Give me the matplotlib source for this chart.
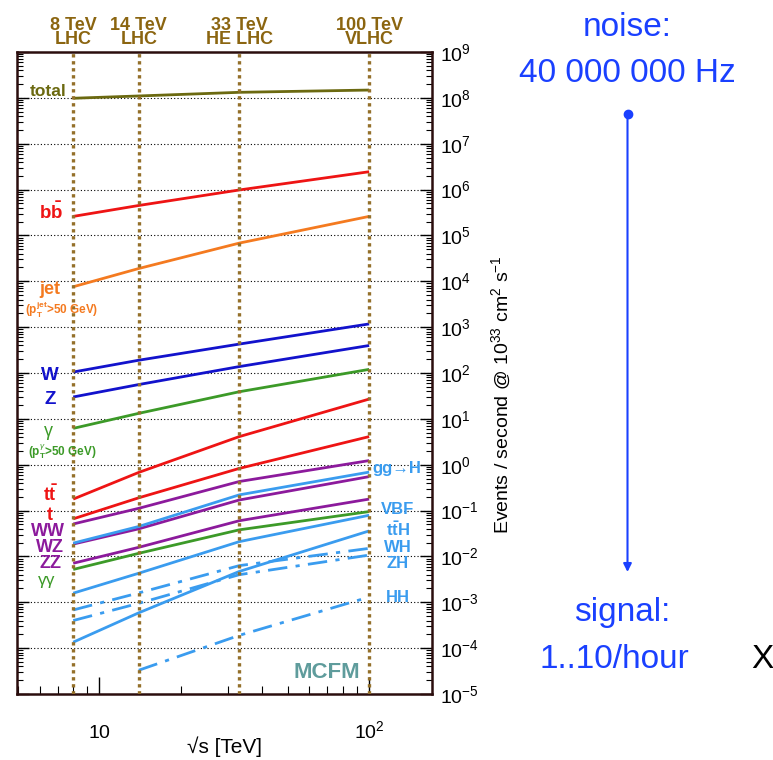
import numpy as np
import matplotlib.pyplot as plt
from matplotlib.ticker import LogLocator, NullFormatter

plt.rcParams['font.family'] = ['Liberation Sans', 'DejaVu Sans']
plt.rcParams['mathtext.fontset'] = 'custom'
plt.rcParams['mathtext.rm'] = 'Liberation Sans'
plt.rcParams['mathtext.it'] = 'Liberation Sans:italic'
plt.rcParams['mathtext.bf'] = 'Liberation Sans:bold'

# collider energies (TeV) and their names
sqrt_s = [8, 14, 33, 100]
collider_energy = ['8 TeV', '14 TeV', '33 TeV', '100 TeV']
collider_name = ['LHC', 'LHC', 'HE LHC', 'VLHC']

# events / second @ 1e33 cm^-2 s^-1, read at 8, 14, 33, 100 TeV
total = [9.8e7, 1.1e8, 1.32e8, 1.48e8]
bb = [2.6e5, 4.5e5, 9.8e5, 2.45e6]
jet = [7.6e3, 1.9e4, 6.8e4, 2.6e5]
w = [105, 190, 427, 1175]
z = [30, 56, 138, 398]
gamma = [6.2, 13.2, 39, 120]
tt = [0.178, 0.68, 4.1, 27]
t = [0.066, 0.19, 0.83, 4.1]
ww = [0.051, 0.112, 0.43, 1.23]
ggh = [0.0195, 0.045, 0.22, 0.69]
wz = [0.0186, 0.040, 0.17, 0.55]
zz = [0.0071, 0.0158, 0.060, 0.178]
diphoton = [0.0052, 0.0117, 0.038, 0.095]
vbf = [0.00158, 0.0043, 0.021, 0.079]
tth = [1.35e-4, 5.9e-4, 4.7e-3, 0.036]
wh = [6.8e-4, 1.6e-3, 6.3e-3, 0.015]
zh = [4.0e-4, 9.5e-4, 4.0e-3, 0.0107]
hh_sqrt_s = [14, 33, 100]
hh = [3.3e-5, 1.9e-4, 1.3e-3]

OLIVE = '#6b6910'
RED = '#ee1414'
ORANGE = '#f47a20'
BLUE = '#1212cc'
GREEN = '#3c9a28'
PURPLE = '#8c1a9c'
LBLUE = '#3a9cef'
BROWN = '#8b6510'
NOTE = '#1a40ff'

fig = plt.figure(figsize=(7.73, 7.60), dpi=100)
W, H = 773, 760
ax = fig.add_axes([17 / W, 66 / H, 415 / W, 642 / H])
ax.set_xscale('log')
ax.set_yscale('log')
ax.set_xlim(4.95, 171)
ax.set_ylim(1e-5, 1e9)

# decade grid
for e in range(-4, 9):
    ax.axhline(10.0 ** e, color='black', lw=0.8, ls=(0, (1, 2)), zorder=1)

# collider lines
for xv in sqrt_s:
    ax.axvline(xv, color='#94702a', lw=2.4, ls=(0, (1, 1.1)), zorder=4)

solid = [
    (total, OLIVE), (bb, RED), (jet, ORANGE), (w, BLUE), (z, BLUE),
    (gamma, GREEN), (tt, RED), (t, RED), (ww, PURPLE), (wz, PURPLE),
    (ggh, LBLUE), (zz, PURPLE), (diphoton, GREEN), (vbf, LBLUE), (tth, LBLUE),
]
for vals, c in solid:
    ax.plot(sqrt_s, vals, color=c, lw=2.0, zorder=3, solid_capstyle='butt')
for xs, vals in [(sqrt_s, wh), (sqrt_s, zh), (hh_sqrt_s, hh)]:
    ax.plot(xs, vals, color=LBLUE, lw=2.0, ls=(0, (7, 3, 1.5, 3)), zorder=3)

# ticks
ax.set_yticks(10.0 ** np.arange(-5, 10))
ax.yaxis.set_minor_locator(LogLocator(base=10, subs=np.arange(2, 10), numticks=200))
ax.yaxis.set_minor_formatter(NullFormatter())
ax.set_xticks([10, 100], [r'$\mathdefault{10}$', r'$\mathdefault{10^{2}}$'])
ax.xaxis.set_minor_locator(LogLocator(base=10, subs=np.arange(2, 10), numticks=50))
ax.xaxis.set_minor_formatter(NullFormatter())
ax.tick_params(axis='y', which='both', direction='in', left=True, right=True,
               labelleft=False, labelright=True, labelsize=14, pad=6)
ax.tick_params(axis='y', which='major', length=8.5, width=1)
ax.tick_params(axis='y', which='minor', length=4.3, width=0.8)
ax.tick_params(axis='x', which='both', direction='in', top=False, bottom=True,
               labelsize=14, pad=32)
ax.tick_params(axis='x', which='major', length=12, width=1)
ax.tick_params(axis='x', which='minor', length=5.5, width=0.8)
for lab in ax.get_xticklabels():
    lab.set_va('baseline')
for sp in ax.spines.values():
    sp.set_linewidth(1.8)
    sp.set_color('#2b0d0d')

ax.set_ylabel(r'Events / second @ 10$^{33}$ cm$^2$ s$^{-1}$', fontsize=14)
ax.yaxis.set_label_position('right')
ax.yaxis.set_label_coords(1.14, 0.467)
ax.set_xlabel('√s [TeV]', fontsize=15)
ax.xaxis.set_label_coords(0.5, -0.066)

# collider names above the frame
tr = ax.get_xaxis_transform()
for xv, e, n in zip(sqrt_s, collider_energy, collider_name):
    ax.text(xv, 1.0304, e + '\n' + n, transform=tr, ha='center', va='center',
            multialignment='center', linespacing=0.8,
            fontsize=13, fontweight='bold', color=BROWN)

# overlay in pixel coordinates for labels and notes
ov = fig.add_axes([0, 0, 1, 1])
ov.set_xlim(0, W)
ov.set_ylim(H, 0)
ov.axis('off')

def lab(x, y, s, c, size=12.5, weight='bold'):
    ov.text(x, y, s, color=c, fontsize=size, fontweight=weight,
            ha='center', va='center')

lab(48, 91, 'total', OLIVE)
lab(51, 212, r'$\mathbf{b\bar{b}}$', RED, 13.5)
lab(50, 290, 'jet', ORANGE, 13)
lab(62, 310, r'(p$_{\mathbf{T}}^{\mathbf{jet}}$>50 GeV)', ORANGE, 8.5)
lab(50, 375, 'W', BLUE, 13.5)
lab(50, 399, 'Z', BLUE, 13.5)
lab(48, 432, 'γ', GREEN, 13, 'normal')
lab(62, 452, r'(p$_{\mathbf{T}}^{\gamma}$>50 GeV)', GREEN, 8.5)
lab(50, 495, r'$\mathbf{t\bar{t}}$', RED, 13)
lab(50, 515, 't', RED, 13)
lab(48, 531, 'WW', PURPLE, 13)
lab(50, 547, 'WZ', PURPLE, 13)
lab(50, 563, 'ZZ', PURPLE, 13)
lab(47, 580, 'γγ', GREEN, 12.5, 'normal')

lab(397, 469, 'gg→H', LBLUE, 12)
lab(398, 510, 'VBF', LBLUE, 12)
lab(398, 530, r'$\mathbf{t\bar{t}H}$', LBLUE, 12)
lab(398, 547, 'WH', LBLUE, 12)
lab(398, 564, 'ZH', LBLUE, 12)
lab(398, 597, 'HH', LBLUE, 12)
lab(327, 672, 'MCFM', '#5f9c9c', 16)

# noise / signal note
ov.text(627, 28, 'noise:', color=NOTE, fontsize=24, ha='center', va='center')
ov.text(627, 73, '40 000 000 Hz', color=NOTE, fontsize=24, ha='center', va='center')
ov.annotate('', xy=(627.5, 572), xytext=(627.5, 114),
            arrowprops=dict(arrowstyle='-|>', color=NOTE, lw=1.5,
                            mutation_scale=12, shrinkA=0, shrinkB=0))
ov.plot([627.5], [114], 'o', color=NOTE, ms=6)
ov.text(622, 612, 'signal:', color=NOTE, fontsize=24, ha='center', va='center')
ov.text(614, 660, '1..10/hour', color=NOTE, fontsize=24, ha='center', va='center')
ov.text(762, 660, 'X', color='black', fontsize=24, ha='center', va='center')

fig.savefig('out.png', dpi=100)
